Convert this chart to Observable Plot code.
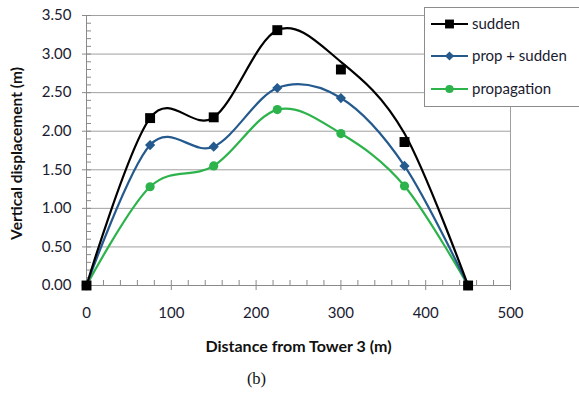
<!DOCTYPE html>
<html>
<head>
<meta charset="utf-8">
<script src="https://cdn.jsdelivr.net/npm/d3@7"></script>
<script src="https://cdn.jsdelivr.net/npm/@observablehq/plot@0.6"></script>
<style>
  html, body { margin: 0; padding: 0; background: #fff; }
  #chart svg { display: block; }
</style>
</head>
<body>
<div id="chart"></div>
<script>
// ---- data ----
const distance = [0, 75, 150, 225, 300, 375, 450];
const sudden = [0, 2.17, 2.18, 3.31, 2.80, 1.86, 0];          // marker values
const suddenCurve = [0, 2.17, 2.18, 3.31, 2.90, 1.97, 0];     // values the smoothed line passes through
const propSudden = [0, 1.82, 1.80, 2.56, 2.43, 1.55, 0];
const propagation = [0, 1.28, 1.55, 2.28, 1.97, 1.29, 0];
const seriesNames = ["sudden", "prop + sudden", "propagation"];
const seriesColors = ["#000000", "#245a8e", "#2db34c"];
const seriesSymbols = ["square", "diamond2", "circle"];
const seriesR = [5.6, 4.6, 4.6];
const xTicks = [0, 100, 200, 300, 400, 500];
const xMinor = d3.range(0, 501, 20);
const yTicks = [0, 0.5, 1, 1.5, 2, 2.5, 3, 3.5];
const yMinor = d3.range(0, 36).map(i => i / 10);
const xTitle = "Distance from Tower 3 (m)";
const yTitle = "Vertical displacement (m)";
const caption = "(b)";

const markerRows = [];
const lineRows = [];
[sudden, propSudden, propagation].forEach((vals, k) => {
  vals.forEach((v, i) => markerRows.push({x: distance[i], y: v, s: seriesNames[k]}));
});
[suddenCurve, propSudden, propagation].forEach((vals, k) => {
  vals.forEach((v, i) => lineRows.push({x: distance[i], y: v, s: seriesNames[k]}));
});

const gray = "#8a8a8a";
const font = "Lato, 'Open Sans', sans-serif";
const tickFill = "#1a1a30";

const marks = [
  Plot.ruleY(yTicks.filter(d => d > 0), {stroke: "#a0a0a0", strokeWidth: 1}),
  Plot.ruleX([500], {stroke: "#a0a0a0", strokeWidth: 1}),
  Plot.axisY(yMinor, {tickSize: -5, tickFormat: () => "", stroke: gray, label: null}),
  Plot.axisY(yTicks, {tickSize: 4, tickPadding: 11, tickFormat: d => d.toFixed(2), stroke: gray, fill: tickFill, fontSize: 15, label: null}),
  Plot.axisX(xMinor, {tickSize: -5, tickFormat: () => "", stroke: gray, label: null}),
  Plot.axisX(xTicks, {tickSize: 5, tickPadding: 17, stroke: gray, fill: tickFill, fontSize: 15, label: null}),
  Plot.ruleX([0], {stroke: gray, strokeWidth: 1}),
  Plot.ruleY([0], {stroke: gray, strokeWidth: 1}),
];

// draw in reverse order so "sudden" is on top
[2, 1, 0].forEach(k => {
  const name = seriesNames[k];
  marks.push(Plot.line(lineRows.filter(d => d.s === name), {
    x: "x", y: "y", stroke: seriesColors[k], strokeWidth: 2.2, curve: "cardinal", tension: 0
  }));
});
[2, 1, 0].forEach(k => {
  const name = seriesNames[k];
  marks.push(Plot.dot(markerRows.filter(d => d.s === name), {
    x: "x", y: "y", symbol: seriesSymbols[k], r: seriesR[k], fill: seriesColors[k], stroke: "none"
  }));
});

marks.push(Plot.text([yTitle], {text: d => d, frameAnchor: "left", textAnchor: "middle", dx: -69, dy: 3, rotate: -90, fontWeight: "bold", fontSize: 15.5, fill: "#111"}));
marks.push(Plot.text([xTitle], {text: d => d, frameAnchor: "bottom", dy: 66, fontWeight: "bold", fontSize: 16, fill: "#111"}));
marks.push(Plot.text([caption], {text: d => d, frameAnchor: "bottom", dx: -42, dy: 98, fontSize: 16.5, fill: "#111", fontFamily: "'Liberation Serif', 'DejaVu Serif', serif"}));

const chart = Plot.plot({
  width: 579,
  height: 396,
  marginLeft: 86,
  marginRight: 69,
  marginTop: 15,
  marginBottom: 111,
  x: {domain: [0, 500]},
  y: {domain: [0, 3.5]},
  style: {fontFamily: font, fontSize: "13px", background: "#fff", overflow: "visible"},
  marks
});

// legend
const svg = d3.select(chart);
const lg = svg.append("g").attr("text-anchor", "start");
lg.append("rect").attr("x", 424.5).attr("y", 7.5).attr("width", 160).attr("height", 99)
  .attr("fill", "#fff").attr("stroke", "#8c8c8c");
const rowsY = [24, 56, 89];
const symGen = {
  square: d3.symbolSquare, diamond2: d3.symbolDiamond2, circle: d3.symbolCircle
};
seriesNames.forEach((name, k) => {
  const g = lg.append("g").attr("transform", `translate(0,${rowsY[k]})`);
  g.append("line").attr("x1", 431).attr("x2", 468).attr("y1", 0).attr("y2", 0)
    .attr("stroke", seriesColors[k]).attr("stroke-width", 2.2);
  g.append("path").attr("transform", "translate(449.5,0)")
    .attr("d", d3.symbol(symGen[seriesSymbols[k]], Math.PI * seriesR[k] * seriesR[k] * 0.8)())
    .attr("fill", seriesColors[k]);
  g.append("text").attr("x", 472).attr("y", 0).attr("dy", "0.35em").attr("text-anchor", "start")
    .attr("font-family", font).attr("font-size", 15).attr("fill", tickFill).text(name);
});

document.getElementById("chart").appendChild(chart);
</script>
</body>
</html>
